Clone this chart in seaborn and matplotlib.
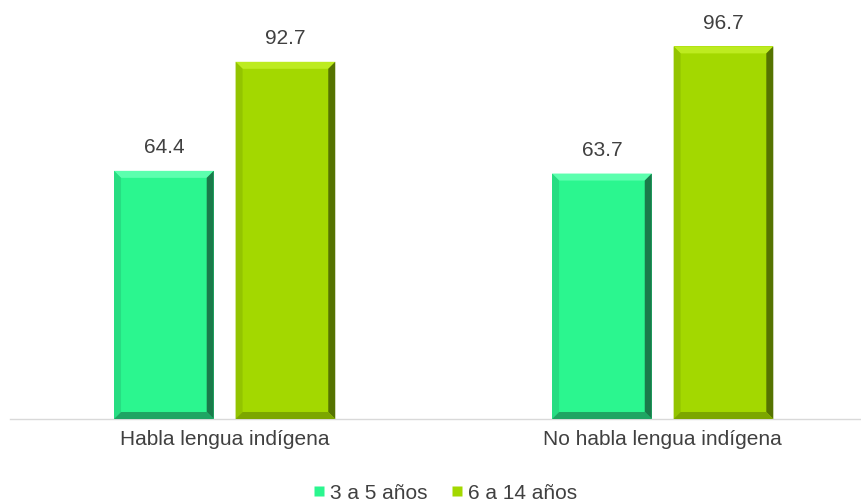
import matplotlib
matplotlib.use("Agg")
import matplotlib.pyplot as plt
from matplotlib.patches import Polygon
from matplotlib.lines import Line2D
import seaborn as sns
import pandas as pd

categories = ["Habla lengua indígena", "No habla lengua indígena"]
series_names = ["3 a 5 años", "6 a 14 años"]
values_3_5 = [64.4, 63.7]
values_6_14 = [92.7, 96.7]
colors = ["#2BF68F", "#A3D800"]
bevel_colors = {
    "#2BF68F": dict(top="#5CFFAE", left="#27DD82", right="#1A7A4A", bottom="#1FA563"),
    "#A3D800": dict(top="#BDEB20", left="#93C400", right="#557300", bottom="#7CA600"),
}

rows = []
for c, v in zip(categories, values_3_5):
    rows.append({"cat": c, "grupo": series_names[0], "val": v})
for c, v in zip(categories, values_6_14):
    rows.append({"cat": c, "grupo": series_names[1], "val": v})
df = pd.DataFrame(rows)

sns.set_theme(style="white")
plt.rcParams["font.family"] = ["Liberation Sans", "DejaVu Sans"]
text_color = "#404040"

fig = plt.figure(figsize=(8.62, 5.02), dpi=100)
ax = fig.add_axes([10 / 862, 82 / 502, 852 / 862, 420 / 502])

sns.barplot(data=df, x="cat", y="val", hue="grupo", palette=colors,
            width=0.555, gap=0.18, legend=False, ax=ax, saturation=1,
            errorbar=None, linewidth=0)

ax.set_xlim(-0.490, 1.455)
ax.set_ylim(0, 109)
ax.set_xlabel("")
ax.set_ylabel("")
ax.set_yticks([])
for s in ["top", "right", "left"]:
    ax.spines[s].set_visible(False)
ax.spines["bottom"].set_color("#D9D9D9")
ax.spines["bottom"].set_linewidth(1.0)
ax.tick_params(axis="x", length=0, pad=7, labelsize=15, labelcolor=text_color)

fig.canvas.draw()
inv = ax.transData.inverted()
p0 = inv.transform((0, 0))
p1 = inv.transform((7, 7))
bx, by = p1[0] - p0[0], p1[1] - p0[1]

for patch in list(ax.patches):
    fc = patch.get_facecolor()
    hexc = matplotlib.colors.to_hex(fc).upper()
    bc = bevel_colors.get(hexc)
    x0, y0 = patch.get_x(), patch.get_y()
    x1, y1 = x0 + patch.get_width(), y0 + patch.get_height()
    if bc is None:
        continue
    polys = [
        ([(x0, y1), (x1, y1), (x1 - bx, y1 - by), (x0 + bx, y1 - by)], bc["top"]),
        ([(x0, y1), (x0 + bx, y1 - by), (x0 + bx, y0 + by), (x0, y0)], bc["left"]),
        ([(x1, y1), (x1, y0), (x1 - bx, y0 + by), (x1 - bx, y1 - by)], bc["right"]),
        ([(x0, y0), (x0 + bx, y0 + by), (x1 - bx, y0 + by), (x1, y0)], bc["bottom"]),
    ]
    for pts, col in polys:
        ax.add_patch(Polygon(pts, closed=True, facecolor=col, edgecolor="none", zorder=3))
    ax.annotate(f"{patch.get_height():.1f}", xy=((x0 + x1) / 2, y1),
                xytext=(0, 17.5), textcoords="offset points",
                ha="center", va="center", fontsize=15, color=text_color,
                annotation_clip=False)

handles = [Line2D([], [], marker="s", linestyle="none", markersize=7,
                  markerfacecolor=c, markeredgecolor="none") for c in colors]
fig.legend(handles, series_names, loc="center", bbox_to_anchor=(445 / 862, 8 / 502),
           ncol=2, frameon=False, fontsize=15, labelcolor=text_color,
           handlelength=0.6, handletextpad=0.25, columnspacing=1.1,
           borderaxespad=0, borderpad=0)

fig.savefig("out.png", dpi=100)
